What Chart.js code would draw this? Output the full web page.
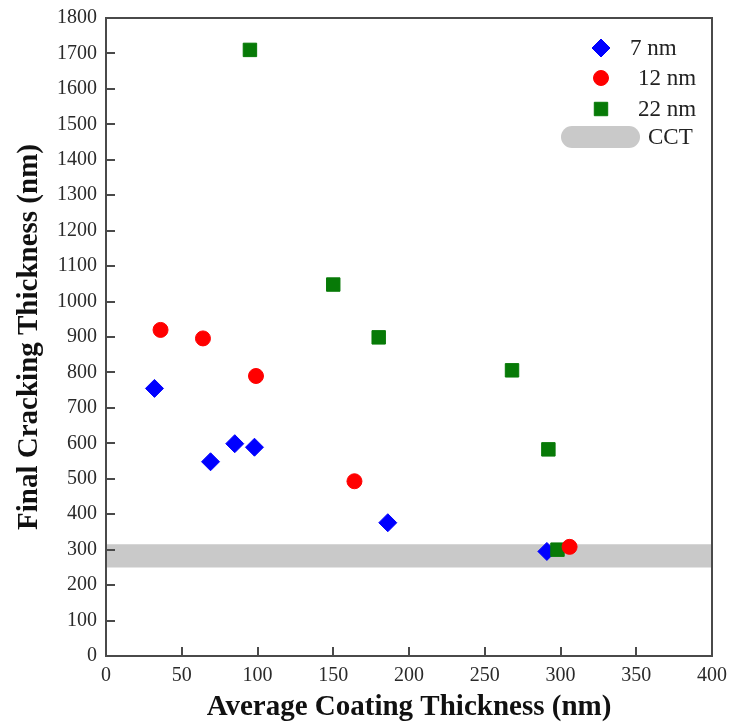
<!DOCTYPE html>
<html>
<head>
<meta charset="utf-8">
<script src="https://cdn.jsdelivr.net/npm/chart.js@4/dist/chart.umd.min.js"></script>
<style>
  html, body { margin: 0; padding: 0; background: #fff; }
  #wrap { width: 730px; height: 725px; }
</style>
</head>
<body>
<div id="wrap"><canvas id="c"></canvas></div>
<script>
// données
const xs7 = [32, 69, 85, 98, 186, 291];
const ys7 = [755, 548, 599, 589, 376, 295];
const xs12 = [36, 64, 99, 164, 306];
const ys12 = [920, 896, 790, 493, 308];
const xs22 = [95, 150, 180, 268, 292, 298];
const ys22 = [1710, 1048, 899, 806, 583, 300];
const cctLow = 250;
const cctHigh = 315;
const xTicks = [0, 50, 100, 150, 200, 250, 300, 350, 400];
const yTicks = [0, 100, 200, 300, 400, 500, 600, 700, 800, 900, 1000, 1100, 1200, 1300, 1400, 1500, 1600, 1700, 1800];

const SERIF = "'Liberation Serif', 'DejaVu Serif', serif";
const AXIS = '#4a4a4a';
const GRAY = '#c9c9c9';

const pts = (xs, ys) => xs.map((x, i) => ({ x, y: ys[i] }));
const band = y => [{ x: xTicks[0], y }, { x: xTicks[xTicks.length - 1], y }];

// cadre + graduations vers l'intérieur
const framePlugin = {
  id: 'frame',
  afterDatasetsDraw(chart) {
    const { ctx, chartArea: a, scales } = chart;
    ctx.save();
    ctx.strokeStyle = AXIS;
    ctx.lineWidth = 2;
    ctx.beginPath();
    scales.x.ticks.forEach(t => {
      const px = Math.round(scales.x.getPixelForValue(t.value));
      ctx.moveTo(px, a.bottom); ctx.lineTo(px, a.bottom - 9);
    });
    scales.y.ticks.forEach(t => {
      const py = Math.round(scales.y.getPixelForValue(t.value));
      ctx.moveTo(a.left, py); ctx.lineTo(a.left + 9, py);
    });
    ctx.stroke();
    ctx.strokeRect(a.left, a.top, a.right - a.left, a.bottom - a.top);
    ctx.restore();
  }
};

// légende dans le coin haut droit
const legendPlugin = {
  id: 'cornerLegend',
  afterDraw(chart) {
    const { ctx, chartArea: a } = chart;
    const ds = chart.data.datasets;
    const mx = a.right - 111;
    const rows = [
      { d: ds[0], y: a.top + 30, tx: a.right - 82 },
      { d: ds[1], y: a.top + 60, tx: a.right - 74 },
      { d: ds[2], y: a.top + 91, tx: a.right - 74 }
    ];
    ctx.save();
    ctx.font = '23px ' + SERIF;
    ctx.textBaseline = 'middle';
    ctx.textAlign = 'left';
    rows.forEach(r => {
      ctx.fillStyle = r.d.backgroundColor;
      ctx.strokeStyle = r.d.borderColor;
      Chart.helpers.drawPoint(ctx, {
        pointStyle: r.d.pointStyle, radius: r.d.pointRadius, borderWidth: 1, rotation: 0
      }, mx, r.y);
      ctx.fillStyle = '#222';
      ctx.fillText(r.d.label, r.tx, r.y + 1);
    });
    // barre grise CCT
    const cy = a.top + 119;
    ctx.fillStyle = GRAY;
    ctx.beginPath();
    ctx.roundRect(a.right - 151, cy - 11, 79, 22, 11);
    ctx.fill();
    ctx.fillStyle = '#222';
    ctx.fillText('CCT', a.right - 64, cy + 1);
    ctx.restore();
  }
};

const plain = v => String(v);

new Chart(document.getElementById('c'), {
  type: 'scatter',
  data: {
    datasets: [
      { label: '7 nm', data: pts(xs7, ys7), pointStyle: 'rectRot', pointRadius: 9,
        backgroundColor: '#0000ff', borderColor: '#0000ff', borderWidth: 1, order: 2 },
      { label: '12 nm', data: pts(xs12, ys12), pointStyle: 'circle', pointRadius: 7.5,
        backgroundColor: '#ff0000', borderColor: '#ff0000', borderWidth: 1, order: 0 },
      { label: '22 nm', data: pts(xs22, ys22), pointStyle: 'rect', pointRadius: 9.5,
        backgroundColor: '#077a07', borderColor: '#077a07', borderWidth: 1, order: 1 },
      { type: 'line', label: 'CCT low', data: band(cctLow), showLine: true, pointRadius: 0,
        borderWidth: 0, borderColor: 'rgba(0,0,0,0)', fill: false, order: 4 },
      { type: 'line', label: 'CCT', data: band(cctHigh), showLine: true, pointRadius: 0,
        borderWidth: 0, borderColor: 'rgba(0,0,0,0)', backgroundColor: GRAY, fill: '-1', order: 3 }
    ]
  },
  options: {
    responsive: true,
    maintainAspectRatio: false,
    animation: false,
    layout: { padding: { left: 0, top: 18, right: 18, bottom: 0 } },
    plugins: { legend: { display: false }, tooltip: { enabled: false } },
    scales: {
      x: {
        type: 'linear', min: 0, max: 400,
        afterBuildTicks: s => { s.ticks = xTicks.map(v => ({ value: v })); },
        afterFit: s => { s.height = 69; s.paddingLeft = 0; s.paddingRight = 0; },
        grid: { display: false, drawTicks: false },
        border: { display: false },
        ticks: { padding: 8, color: '#2a2a2a', callback: plain, font: { family: SERIF, size: 20 } },
        title: { display: true, text: 'Average Coating Thickness (nm)', color: '#111',
          padding: { top: 1, bottom: 0 }, font: { family: SERIF, size: 29, weight: 'bold' } }
      },
      y: {
        type: 'linear', min: 0, max: 1800,
        afterBuildTicks: s => { s.ticks = yTicks.map(v => ({ value: v })); },
        afterFit: s => { s.width = 106; s.paddingTop = 0; s.paddingBottom = 0; },
        grid: { display: false, drawTicks: false },
        border: { display: false },
        ticks: { padding: 9, color: '#2a2a2a', callback: plain, font: { family: SERIF, size: 20 } },
        title: { display: true, text: 'Final Cracking Thickness (nm)', color: '#111',
          padding: { top: 12, bottom: 0 }, font: { family: SERIF, size: 29, weight: 'bold' } }
      }
    }
  },
  plugins: [framePlugin, legendPlugin]
});
</script>
</body>
</html>
